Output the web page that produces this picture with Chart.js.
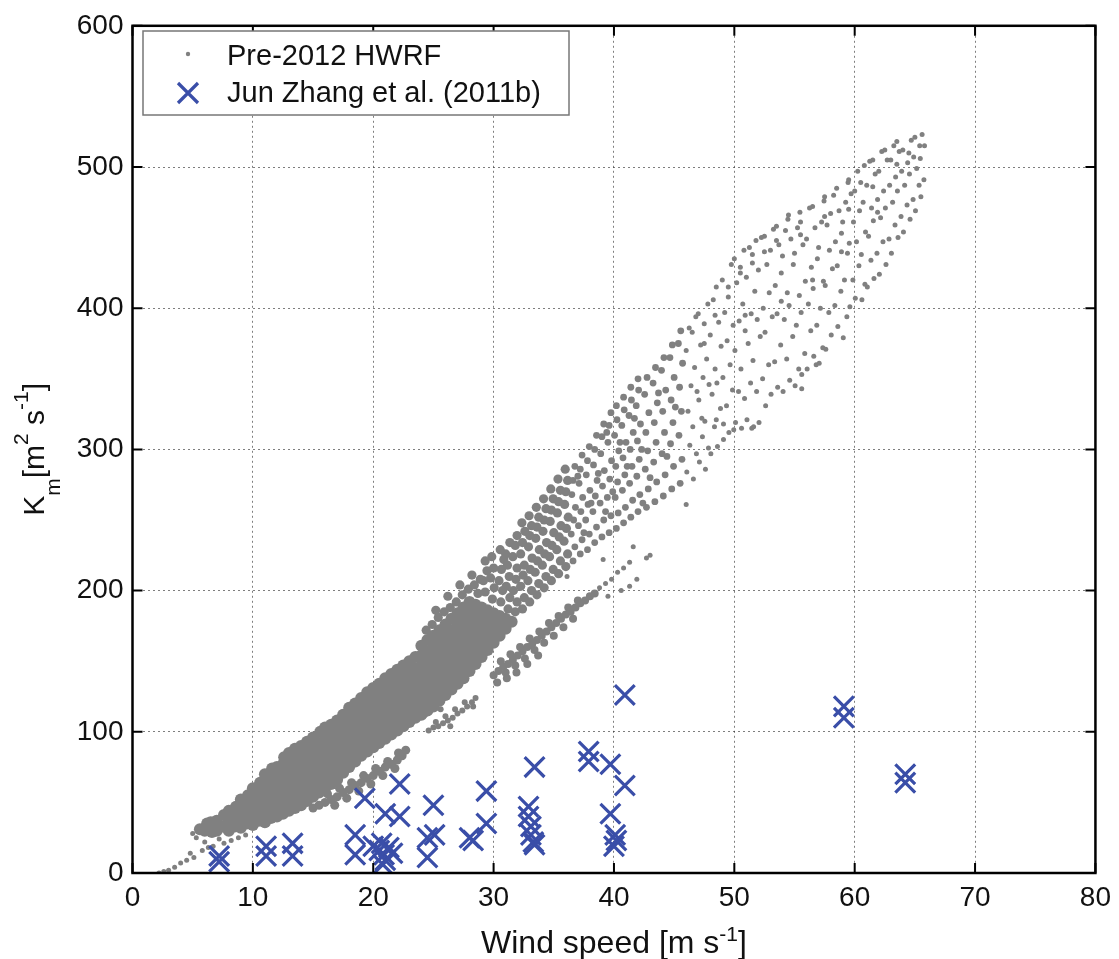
<!DOCTYPE html>
<html>
<head>
<meta charset="utf-8">
<script src="https://cdn.jsdelivr.net/npm/chart.js@4.4.1/dist/chart.umd.min.js"></script>
<style>
  body { margin: 0; background: #fff; }
  #wrap { width: 1119px; height: 959px; position: relative; }
</style>
</head>
<body>
<div id="wrap"><canvas id="carta_km"></canvas></div>
<script>
const xTicks = [0, 10, 20, 30, 40, 50, 60, 70, 80]
const yTicks = [0, 100, 200, 300, 400, 500, 600]

// Jun Zhang et al. (2011b) observations [wind speed, Km]
const zhangObs = [
    [7.2, 12], [7.2, 8], [11.1, 19], [11.1, 12], [13.3, 21], [13.3, 12],
    [18.5, 27], [18.5, 13], [19.3, 53], [20.0, 19], [20.5, 16], [20.9, 13],
    [21.3, 18], [21.0, 9], [21.6, 14], [20.7, 21], [20.8, 6], [21.0, 42],
    [22.2, 63], [22.2, 40], [25.0, 48], [24.5, 25], [24.5, 11], [25.1, 27],
    [28.0, 25], [28.3, 23], [29.4, 58], [29.4, 35], [32.9, 47], [32.9, 40],
    [33.1, 33], [33.1, 27], [33.3, 22], [33.4, 75], [33.4, 20], [37.9, 86],
    [37.9, 79], [39.7, 77], [40.9, 126], [40.9, 62], [39.7, 42], [40.1, 27],
    [40.2, 23], [40.0, 19], [59.1, 118], [59.1, 110], [64.2, 70], [64.2, 64]
]

// Pre-2012 HWRF, the solid part of the main band
const hwrfCore = [
    [5.6, 31], [6.0, 30], [6.2, 35], [6.6, 29], [6.5, 36], [7.0, 30], [7.0, 37], [7.5, 33], [7.6, 41],
    [8.0, 30], [8.0, 37], [8.0, 44], [8.5, 33], [8.5, 40], [8.6, 47],
    [9.0, 32], [9.0, 39], [9.0, 46], [9.0, 52], [9.5, 35], [9.5, 42], [9.5, 49], [9.6, 55],
    [10.0, 34], [10.0, 41], [10.0, 48], [10.0, 55], [10.0, 60], [10.5, 37], [10.5, 44], [10.5, 51], [10.5, 58], [10.6, 64],
    [11.0, 36], [11.0, 43], [11.0, 50], [11.0, 57], [11.0, 64], [11.0, 70], [11.5, 39], [11.5, 46], [11.5, 53], [11.5, 60], [11.5, 67], [11.6, 74],
    [12.0, 40], [12.0, 47], [12.0, 54], [12.0, 61], [12.0, 68], [12.0, 75], [12.5, 42], [12.5, 49], [12.5, 56], [12.5, 63], [12.5, 70], [12.5, 77], [12.6, 82],
    [13.0, 44], [13.0, 51], [13.0, 58], [13.0, 65], [13.0, 72], [13.0, 79], [13.0, 85], [13.5, 46], [13.5, 53], [13.5, 60], [13.5, 67], [13.5, 74], [13.5, 81], [13.5, 88],
    [14.0, 48], [14.0, 55], [14.0, 62], [14.0, 69], [14.0, 76], [14.0, 83], [14.0, 90], [14.5, 51], [14.5, 58], [14.5, 65], [14.5, 72], [14.5, 79], [14.5, 86], [14.5, 93],
    [15.0, 54], [15.0, 61], [15.0, 68], [15.0, 75], [15.0, 82], [15.0, 89], [15.0, 96], [15.5, 57], [15.5, 64], [15.5, 71], [15.5, 78], [15.5, 85], [15.5, 92], [15.6, 100],
    [16.0, 60], [16.0, 67], [16.0, 74], [16.0, 81], [16.0, 88], [16.0, 95], [16.0, 103], [16.5, 63], [16.5, 70], [16.5, 77], [16.5, 84], [16.5, 91], [16.5, 98], [16.5, 105],
    [17.0, 66], [17.0, 73], [17.0, 80], [17.0, 87], [17.0, 94], [17.0, 101], [17.0, 108], [17.5, 71], [17.5, 78], [17.5, 85], [17.5, 92], [17.5, 99], [17.5, 106], [17.5, 112],
    [18.0, 75], [18.0, 82], [18.0, 89], [18.0, 96], [18.0, 103], [18.0, 110], [18.0, 117], [18.5, 79], [18.5, 86], [18.5, 93], [18.5, 100], [18.5, 107], [18.5, 114], [18.5, 120],
    [19.0, 83], [19.0, 90], [19.0, 97], [19.0, 104], [19.0, 111], [19.0, 118], [19.0, 124], [19.5, 86], [19.5, 93], [19.5, 100], [19.5, 107], [19.5, 114], [19.5, 121], [19.5, 128],
    [20.0, 89], [20.0, 96], [20.0, 103], [20.0, 110], [20.0, 117], [20.0, 124], [20.0, 131], [20.5, 92], [20.5, 99], [20.5, 106], [20.5, 113], [20.5, 120], [20.5, 127], [20.5, 134],
    [21.0, 95], [21.0, 102], [21.0, 109], [21.0, 116], [21.0, 123], [21.0, 130], [21.0, 138], [21.5, 98], [21.5, 105], [21.5, 112], [21.5, 119], [21.5, 126], [21.5, 133], [21.5, 141],
    [22.0, 101], [22.0, 108], [22.0, 115], [22.0, 122], [22.0, 129], [22.0, 136], [22.0, 144], [22.5, 104], [22.5, 111], [22.5, 118], [22.5, 125], [22.5, 132], [22.5, 139], [22.5, 147],
    [23.0, 107], [23.0, 114], [23.0, 121], [23.0, 128], [23.0, 135], [23.0, 142], [23.0, 150], [23.5, 110], [23.5, 117], [23.5, 124], [23.5, 131], [23.5, 138], [23.5, 145], [23.5, 153],
    [24.0, 112], [24.0, 119], [24.0, 126], [24.0, 133], [24.0, 140], [24.0, 147], [24.0, 154], [24.0, 161], [24.5, 115], [24.5, 122], [24.5, 129], [24.5, 136], [24.5, 143], [24.5, 150], [24.5, 157], [24.5, 165],
    [25.0, 118], [25.0, 125], [25.0, 132], [25.0, 139], [25.0, 146], [25.0, 153], [25.0, 160], [25.0, 168], [25.5, 122], [25.5, 129], [25.5, 136], [25.5, 143], [25.5, 150], [25.5, 157], [25.5, 164], [25.5, 172],
    [26.0, 126], [26.0, 133], [26.0, 140], [26.0, 147], [26.0, 154], [26.0, 161], [26.0, 168], [26.0, 176], [26.5, 130], [26.5, 137], [26.5, 144], [26.5, 151], [26.5, 158], [26.5, 165], [26.5, 172], [26.5, 180],
    [27.0, 134], [27.0, 141], [27.0, 148], [27.0, 155], [27.0, 162], [27.0, 169], [27.0, 176], [27.0, 184], [27.5, 138], [27.5, 145], [27.5, 152], [27.5, 159], [27.5, 166], [27.5, 173], [27.5, 180], [27.5, 188],
    [28.0, 143], [28.0, 150], [28.0, 157], [28.0, 164], [28.0, 171], [28.0, 178], [28.0, 185], [28.0, 192], [28.5, 148], [28.5, 155], [28.5, 162], [28.5, 169], [28.5, 176], [28.5, 183], [28.5, 190],
    [29.0, 153], [29.0, 160], [29.0, 167], [29.0, 174], [29.0, 181], [29.0, 188], [29.5, 158], [29.5, 165], [29.5, 172], [29.5, 179], [29.5, 186],
    [30.0, 163], [30.0, 170], [30.0, 177], [30.0, 184], [30.5, 168], [30.5, 175], [30.5, 182], [31.0, 173], [31.0, 180], [31.5, 178]
]

// thin arm under the main band (16-23 m/s)
const hwrfLowerArm = [
    [15.0, 46], [15.5, 48], [16.0, 50], [16.5, 52], [17.0, 54], [17.5, 57], [18.0, 59], [18.5, 62], [19.0, 64],
    [19.5, 67], [20.0, 69], [20.5, 72], [21.0, 75], [21.5, 77], [22.0, 80], [22.4, 83], [22.7, 87],
    [16.2, 56], [17.2, 60], [18.2, 64], [19.2, 69], [20.2, 74], [21.2, 79], [22.1, 85],
    [16.8, 48], [17.8, 53], [18.8, 58], [19.8, 63], [20.8, 69], [21.8, 74]
]

// short streak near 25-28 m/s
const hwrfSmallArm = [
    [24.6, 101], [25.0, 103], [25.4, 104], [25.8, 106], [26.2, 108], [26.6, 110], [27.0, 113], [27.4, 115],
    [27.8, 118], [28.2, 121], [28.5, 124], [25.2, 107], [26.0, 111], [26.8, 116], [27.6, 121], [24.3, 112],
    [25.6, 116], [28.3, 118], [26.4, 104]
]

// long streak from 30 to 43 m/s
const hwrfUpperArm = [
    [30.0, 140], [30.4, 143], [30.8, 146], [31.2, 148], [31.6, 151], [32.0, 154], [32.4, 157], [32.8, 160],
    [33.2, 162], [33.6, 165], [34.0, 168], [34.4, 171], [34.8, 174], [35.2, 177], [35.6, 180], [36.0, 183],
    [36.4, 185], [36.8, 188], [37.2, 191], [37.6, 193], [38.0, 196], [38.4, 198],
    [30.6, 150], [31.4, 155], [32.2, 160], [33.0, 166], [33.8, 171], [34.6, 177], [35.4, 182], [36.2, 188], [37.0, 193],
    [31.0, 142], [31.8, 147], [32.6, 152], [33.4, 158], [34.2, 163], [35.0, 168], [35.8, 174], [36.6, 180],
    [30.3, 135], [31.1, 138], [31.9, 142], [32.8, 148], [33.7, 154]
]

// dense speckled upper part of the band, 24-36 m/s
const hwrfSpeckle = [
    [24.4, 172], [24.9, 176], [25.4, 181], [25.9, 185], [26.4, 188], [26.9, 192], [27.4, 197], [27.9, 201],
    [28.4, 204], [28.9, 208], [25.2, 186], [26.2, 196], [27.2, 204], [28.2, 211], [28.7, 198],
    [29.3, 199], [29.15, 207], [29.45, 214], [29.3, 221],
    [29.9, 194], [30.05, 202], [29.75, 209], [30.0, 216], [29.85, 224],
    [30.6, 192], [30.75, 200], [30.45, 207], [30.65, 215], [30.85, 222], [30.55, 229],
    [31.2, 187], [31.35, 195], [31.05, 203], [31.3, 210], [31.15, 218], [31.0, 226], [31.35, 234],
    [31.8, 185], [31.95, 192], [31.65, 200], [31.85, 208], [31.95, 216], [31.6, 224], [31.8, 232], [31.95, 239],
    [32.4, 187], [32.55, 195], [32.25, 203], [32.45, 211], [32.55, 218], [32.25, 226], [32.4, 234], [32.6, 242], [32.35, 248],
    [33.0, 192], [33.15, 200], [32.85, 207], [33.05, 215], [33.2, 223], [32.9, 231], [33.0, 239], [33.15, 246], [32.95, 253],
    [33.6, 197], [33.75, 205], [33.45, 213], [33.65, 221], [33.8, 229], [33.5, 237], [33.6, 245], [33.75, 252], [33.55, 259],
    [34.2, 202], [34.35, 210], [34.05, 218], [34.25, 226], [34.4, 234], [34.1, 242], [34.2, 250], [34.35, 258], [34.15, 265],
    [34.8, 207], [34.95, 215], [34.65, 224], [34.85, 232], [35.0, 241], [34.7, 249], [34.8, 257], [34.95, 265], [34.75, 272],
    [35.4, 212], [35.55, 221], [35.25, 229], [35.45, 238], [35.6, 246], [35.3, 255], [35.4, 263], [35.55, 271], [35.35, 279],
    [36.0, 217], [36.15, 226], [35.85, 235], [36.05, 244], [36.2, 252], [35.9, 261], [36.0, 270], [36.15, 278], [35.95, 286]
]

// looser speckle, 36-46 m/s
const hwrfSpeckleOuter = [
    [36.6, 221], [36.75, 231], [36.45, 240], [36.65, 250], [36.8, 259], [36.5, 268], [36.6, 278], [36.75, 288],
    [37.2, 226], [37.35, 236], [37.05, 246], [37.25, 256], [37.4, 266], [37.1, 276], [37.2, 286], [37.35, 296],
    [37.8, 229], [37.95, 240], [37.65, 250], [37.85, 261], [38.0, 271], [37.7, 282], [37.8, 292], [37.95, 302],
    [38.4, 234], [38.55, 245], [38.25, 256], [38.45, 267], [38.6, 278], [38.3, 289], [38.4, 300], [38.55, 310],
    [39.0, 238], [39.15, 250], [38.85, 262], [39.05, 274], [39.2, 285], [38.9, 297], [39.0, 309], [39.15, 318],
    [39.6, 241], [39.75, 253], [39.45, 266], [39.65, 279], [39.8, 292], [39.5, 305], [39.6, 317], [39.75, 326],
    [40.2, 244], [40.35, 255], [40.1, 266], [40.3, 277], [40.15, 288], [40.4, 299], [40.05, 310], [40.25, 321], [40.2, 331],
    [40.8, 248], [40.95, 259], [40.7, 271], [40.9, 282], [40.75, 294], [41.0, 305], [40.65, 317], [40.85, 328], [40.8, 337],
    [41.4, 252], [41.55, 264], [41.3, 276], [41.5, 288], [41.35, 300], [41.6, 312], [41.25, 324], [41.45, 335], [41.4, 344],
    [42.0, 256], [42.15, 268], [41.9, 281], [42.1, 293], [41.95, 306], [42.2, 318], [41.85, 331], [42.05, 342], [42.0, 350],
    [42.7, 259], [42.85, 272], [42.6, 286], [42.8, 299], [42.65, 312], [42.9, 326], [42.55, 339], [42.75, 351],
    [43.4, 263], [43.55, 277], [43.3, 291], [43.5, 305], [43.35, 319], [43.6, 333], [43.25, 347], [43.45, 358],
    [44.1, 267], [44.25, 282], [44.0, 297], [44.2, 312], [44.05, 327], [44.3, 342], [43.95, 356], [44.15, 365],
    [44.8, 272], [44.95, 288], [44.7, 304], [44.9, 319], [44.75, 335], [45.0, 351], [44.65, 365], [44.85, 374],
    [45.5, 276], [45.65, 293], [45.4, 310], [45.6, 327], [45.45, 344], [45.7, 361], [45.35, 375], [45.55, 384],
    [37.5, 241], [38.1, 262], [38.7, 283], [39.3, 256], [39.9, 270], [40.5, 305], [41.1, 288], [41.7, 322],
    [42.3, 300], [43.0, 280], [43.7, 340], [44.4, 295], [45.1, 330], [37.0, 281], [39.4, 312], [42.4, 262]
]

// loose dots: low wind tail, strays and the top of the cloud
const hwrfSparse = [
    [2.2, 0], [2.6, 1], [3.0, 2], [3.5, 4], [4.0, 7], [4.5, 9], [5.1, 11], [5.8, 16], [6.3, 18], [6.7, 19],
    [7.6, 21], [8.2, 23], [4.8, 14], [7.2, 24], [8.8, 25], [9.4, 27], [6.0, 22], [5.3, 25], [5.0, 28],
    [38.8, 202], [39.3, 205], [39.8, 208], [40.3, 213], [40.8, 216], [41.3, 220], [41.9, 208], [41.3, 203],
    [42.7, 223], [41.6, 231], [43.0, 225], [39.5, 196], [40.6, 200], [46.0, 261], [36.1, 210], [39.1, 222],
    [46.05, 284], [46.3, 303], [46.15, 327], [46.4, 345], [46.0, 370], [46.25, 386],
    [46.6, 279], [46.85, 297], [46.55, 316], [46.9, 341], [46.7, 358], [46.5, 383], [46.8, 394],
    [47.1, 291], [47.35, 309], [47.05, 335], [47.4, 351], [47.2, 374], [47.0, 396], [47.3, 322],
    [47.6, 286], [47.85, 301], [47.55, 320], [47.9, 346], [47.7, 364], [47.5, 389], [47.8, 403],
    [48.05, 297], [48.35, 316], [48.15, 339], [48.4, 357], [48.0, 381], [48.25, 406], [48.5, 321],
    [48.6, 302], [48.85, 329], [48.55, 347], [48.9, 373], [48.7, 390], [48.5, 415],
    [49.1, 307], [49.35, 331], [49.05, 351], [49.4, 377], [49.2, 397], [49.0, 420], [49.1, 318],
    [49.55, 312], [49.85, 342], [49.65, 360], [49.9, 388], [49.5, 408], [49.75, 431],
    [50.1, 319], [50.35, 341], [50.05, 370], [50.4, 391], [50.2, 418], [50.0, 435], [49.95, 314],
    [50.6, 315], [50.85, 336], [50.55, 357], [50.9, 384], [50.7, 403], [50.5, 429], [50.8, 441],
    [51.05, 321], [51.35, 347], [51.15, 375], [51.4, 396], [51.0, 422], [51.25, 443], [51.45, 315],
    [51.6, 316], [51.85, 341], [51.55, 363], [51.9, 392], [51.7, 412], [51.5, 438], [51.8, 448],
    [52.05, 319], [52.35, 350], [52.15, 380], [52.4, 400], [52.0, 427], [52.25, 450],
    [52.6, 331], [52.85, 360], [52.55, 383], [52.9, 411], [52.7, 431], [52.5, 451],
    [53.05, 339], [53.35, 362], [53.15, 394], [53.4, 416], [53.0, 441], [53.25, 456],
    [53.6, 344], [53.85, 374], [53.55, 396], [53.9, 425], [53.7, 445], [53.5, 458],
    [54.05, 341], [54.35, 364], [54.15, 392], [54.4, 411], [54.0, 437], [54.25, 455], [54.45, 463],
    [54.6, 349], [54.85, 380], [54.55, 402], [54.9, 431], [54.7, 449], [54.5, 466],
    [55.05, 345], [55.35, 357], [55.15, 388], [55.4, 409], [55.0, 439], [55.25, 457], [55.45, 468],
    [55.6, 353], [55.85, 368], [55.55, 397], [55.9, 419], [55.7, 445], [55.5, 461], [55.6, 343],
    [56.05, 357], [56.35, 384], [56.15, 403], [56.4, 429], [56.0, 449], [56.25, 471],
    [56.6, 366], [56.85, 388], [56.55, 414], [56.9, 435], [56.7, 457], [56.5, 472], [56.8, 360],
    [57.05, 361], [57.35, 372], [57.15, 400], [57.4, 419], [57.0, 443], [57.25, 461], [57.45, 476],
    [57.6, 371], [57.85, 397], [57.55, 416], [57.9, 441], [57.7, 459], [57.5, 479],
    [58.05, 381], [58.35, 402], [58.15, 428], [58.4, 447], [58.0, 467], [58.25, 480],
    [58.6, 387], [58.85, 412], [58.55, 430], [58.9, 453], [58.7, 469], [58.5, 485],
    [59.05, 379], [59.35, 394], [59.15, 420], [59.4, 439], [59.0, 461], [59.25, 475], [59.45, 489],
    [59.6, 401], [59.85, 420], [59.55, 446], [59.9, 461], [59.7, 481], [59.5, 491],
    [60.05, 407], [60.35, 430], [60.15, 447], [60.4, 469], [60.0, 483], [60.25, 497],
    [60.6, 406], [60.85, 417], [60.55, 438], [60.9, 454], [60.7, 475], [60.5, 489], [60.8, 501],
    [61.05, 415], [61.35, 434], [61.15, 451], [61.4, 471], [61.0, 487], [61.25, 504],
    [61.6, 421], [61.85, 439], [61.55, 462], [61.9, 477], [61.7, 495], [61.5, 505],
    [62.05, 424], [62.35, 447], [62.15, 464], [62.4, 483], [62.0, 497], [62.25, 511],
    [62.6, 431], [62.85, 449], [62.55, 471], [62.9, 487], [62.7, 505], [62.5, 512],
    [63.05, 439], [63.35, 459], [63.15, 475], [63.4, 493], [63.0, 505], [63.25, 515],
    [63.6, 450], [63.85, 465], [63.55, 483], [63.9, 497], [63.7, 511], [63.5, 518],
    [64.05, 454], [64.35, 473], [64.15, 487], [64.4, 503], [64.0, 512],
    [64.6, 463], [64.85, 477], [64.55, 495], [64.9, 507], [64.7, 519],
    [65.05, 469], [65.35, 487], [65.15, 499], [65.4, 515], [65.0, 521],
    [65.5, 479], [65.75, 491], [65.45, 506], [65.8, 515], [65.6, 523],
    [48.4, 395], [49.5, 415], [50.5, 425], [51.5, 432], [52.5, 440], [53.5, 448], [55.5, 452], [57.5, 465],
    [59.5, 470], [61.5, 486], [63.5, 502], [64.5, 510], [47.5, 375], [50.9, 395], [53.9, 405], [56.5, 420],
    [58.9, 440], [61.9, 468]
]

const grey = "rgb(128,128,128)"
const blue = "rgb(58,78,168)"
const fontFamily = '"Liberation Sans", Arial, Helvetica, sans-serif'
const toXY = pairs => pairs.map(([x, y]) => ({ x, y }))

const greySet = (label, pairs, radius) => ({
    label: label,
    data: toXY(pairs),
    pointRadius: radius,
    pointBackgroundColor: grey,
    pointBorderWidth: 0,
    order: 1
})

// draws a string made of pieces, some of them raised or lowered
function drawRich(ctx, parts, x, y, size, angle) {
    ctx.save()
    ctx.translate(x, y)
    ctx.rotate(angle)
    ctx.fillStyle = "#111"
    ctx.textBaseline = "alphabetic"
    let total = 0
    parts.forEach(p => {
        ctx.font = (p.size || size) + "px " + fontFamily
        p.w = ctx.measureText(p.t).width
        total += p.w
    })
    let cx = -total / 2
    parts.forEach(p => {
        ctx.font = (p.size || size) + "px " + fontFamily
        ctx.fillText(p.t, cx, p.dy || 0)
        cx += p.w
    })
    ctx.restore()
}

const matlabBox = {
    id: "matlabBox",
    afterDatasetsDraw(chart) {
        const { ctx, chartArea: a, scales } = chart
        ctx.save()
        ctx.strokeStyle = "#000"
        ctx.lineWidth = 2
        // inward ticks on every side
        const len = 10
        xTicks.forEach(v => {
            const px = scales.x.getPixelForValue(v)
            ctx.beginPath()
            ctx.moveTo(px, a.bottom); ctx.lineTo(px, a.bottom - len)
            ctx.moveTo(px, a.top); ctx.lineTo(px, a.top + len)
            ctx.stroke()
        })
        yTicks.forEach(v => {
            const py = scales.y.getPixelForValue(v)
            ctx.beginPath()
            ctx.moveTo(a.left, py); ctx.lineTo(a.left + len, py)
            ctx.moveTo(a.right, py); ctx.lineTo(a.right - len, py)
            ctx.stroke()
        })
        ctx.lineWidth = 2.5
        ctx.strokeRect(a.left, a.top, a.right - a.left, a.bottom - a.top)

        // legend
        ctx.fillStyle = "#fff"
        ctx.fillRect(143, 31, 426, 84)
        ctx.strokeStyle = "#777"
        ctx.lineWidth = 1.5
        ctx.strokeRect(143, 31, 426, 84)
        ctx.fillStyle = grey
        ctx.beginPath()
        ctx.arc(188, 54, 2.2, 0, Math.PI * 2)
        ctx.fill()
        ctx.strokeStyle = blue
        ctx.lineWidth = 3.2
        ctx.beginPath()
        ctx.moveTo(178, 83); ctx.lineTo(198, 103)
        ctx.moveTo(198, 83); ctx.lineTo(178, 103)
        ctx.stroke()
        ctx.fillStyle = "#111"
        ctx.font = "29px " + fontFamily
        ctx.textBaseline = "alphabetic"
        ctx.fillText(chart.data.datasets[1].label, 227, 65)
        ctx.fillText(chart.data.datasets[0].label, 227, 102)
        ctx.restore()

        // axis titles
        drawRich(ctx, [
            { t: "Wind speed [m s" }, { t: "-1", size: 21, dy: -12 }, { t: "]" }
        ], (a.left + a.right) / 2, 953, 32, 0)
        drawRich(ctx, [
            { t: "K" }, { t: "m", size: 21, dy: 16 }, { t: "[m" }, { t: "2", size: 21, dy: -16 },
            { t: " s" }, { t: "-1", size: 21, dy: -16 }, { t: "]" }
        ], 44, (a.top + a.bottom) / 2, 30, -Math.PI / 2)
    }
}

Chart.defaults.font.family = fontFamily
Chart.defaults.color = "#111"

const carta_km = document.getElementById("carta_km")
new Chart(carta_km, {
    type: "scatter",
    data: {
        datasets: [
            {
                label: "Jun Zhang et al. (2011b)",
                data: toXY(zhangObs),
                pointStyle: "crossRot",
                pointRadius: 14,
                pointBorderWidth: 3.2,
                pointBorderColor: blue,
                pointBackgroundColor: blue,
                order: 0
            },
            greySet("Pre-2012 HWRF", hwrfSparse, 2.5),
            greySet("core", hwrfCore, 6),
            greySet("lower arm", hwrfLowerArm, 4.5),
            greySet("small arm", hwrfSmallArm, 3),
            greySet("upper arm", hwrfUpperArm, 4),
            greySet("speckle", hwrfSpeckle, 4.6),
            greySet("outer speckle", hwrfSpeckleOuter, 3.4)
        ]
    },
    options: {
        responsive: true,
        maintainAspectRatio: false,
        animation: false,
        events: [],
        layout: { padding: { top: 18, right: 18.5, left: 0, bottom: 0 } },
        plugins: {
            legend: { display: false },
            tooltip: { enabled: false }
        },
        scales: {
            x: {
                type: "linear",
                min: xTicks[0],
                max: xTicks[xTicks.length - 1],
                afterBuildTicks: s => { s.ticks = xTicks.map(v => ({ value: v })) },
                afterFit: s => { s.height = 86 },
                grid: { color: "rgba(40,40,40,0.6)", lineWidth: 1, drawTicks: false },
                border: { display: false, dash: [2, 3] },
                ticks: { padding: 8, font: { size: 28 }, color: "#111", maxRotation: 0 }
            },
            y: {
                type: "linear",
                min: yTicks[0],
                max: yTicks[yTicks.length - 1],
                afterBuildTicks: s => { s.ticks = yTicks.map(v => ({ value: v })) },
                afterFit: s => { s.width = 132.5 },
                grid: { color: "rgba(40,40,40,0.6)", lineWidth: 1, drawTicks: false },
                border: { display: false, dash: [2, 3] },
                ticks: { padding: 9, font: { size: 28 }, color: "#111" }
            }
        }
    },
    plugins: [matlabBox]
});
</script>
</body>
</html>
